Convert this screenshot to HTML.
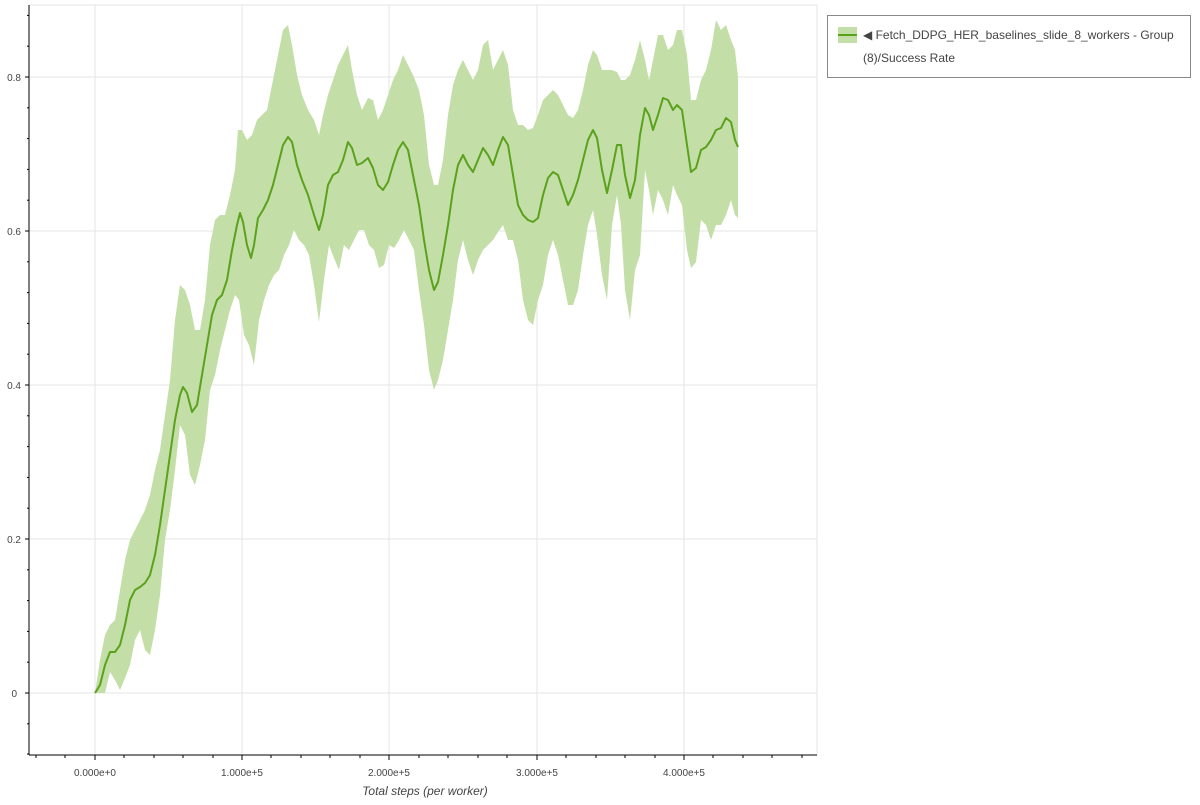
<!DOCTYPE html>
<html><head><style>
body{margin:0;background:#fff;width:1200px;height:800px;overflow:hidden;font-family:"Liberation Sans",sans-serif}
</style></head><body>
<svg width="1200" height="800" xmlns="http://www.w3.org/2000/svg" font-family="Liberation Sans, sans-serif">
<rect x="29" y="5" width="788" height="750" fill="#fff" stroke="#e6e6e6"/>
<g stroke="#e4e4e4" stroke-width="1">
<line x1="95" y1="5" x2="95" y2="755"/><line x1="242" y1="5" x2="242" y2="755"/><line x1="389" y1="5" x2="389" y2="755"/><line x1="537" y1="5" x2="537" y2="755"/><line x1="684" y1="5" x2="684" y2="755"/>
<line x1="29" y1="693" x2="817" y2="693"/><line x1="29" y1="539" x2="817" y2="539"/><line x1="29" y1="385" x2="817" y2="385"/><line x1="29" y1="231" x2="817" y2="231"/><line x1="29" y1="77" x2="817" y2="77"/>
</g>
<polygon fill="#c4dea8" points="95,693 100,660 105,635 110,625 115,620 120,590 125,560 130,540 135,530 140,520 145,510 150,495 155,470 160,450 165,415 170,380 175,320 180,285 185,290 190,305 195,330 200,330 205,300 210,245 215,220 220,215 225,215 230,195 235,170 238,130 242,130 247,140 252,135 257,120 262,115 267,110 272,85 277,60 283,30 288,25 292,45 297,75 302,95 308,110 314,120 319,135 323,115 328,95 333,80 338,65 343,55 348,45 352,70 357,95 362,110 368,98 373,100 378,120 383,110 388,95 393,80 398,70 403,55 408,65 413,75 419,90 424,115 429,165 434,185 438,185 443,160 448,115 453,85 458,70 463,60 468,70 473,80 478,70 483,45 488,40 493,70 498,60 503,50 508,65 513,110 518,125 523,125 528,130 533,128 538,115 543,100 548,95 553,90 558,95 563,105 568,115 573,118 578,110 583,90 588,65 593,50 597,55 602,70 607,70 612,70 617,72 621,80 625,80 630,75 635,60 640,40 645,60 649,80 653,60 658,35 663,35 668,50 673,45 677,30 682,30 687,55 691,100 696,100 701,80 706,70 711,50 716,20 721,30 726,25 731,40 735,50 738,77 738,218 735,215 731,200 726,215 721,225 716,225 711,240 706,225 701,220 696,262 691,268 687,250 682,205 677,195 673,185 668,215 663,200 658,190 653,215 649,190 645,170 640,255 635,270 630,320 625,290 621,225 617,195 612,225 607,300 602,275 597,235 593,210 588,225 583,255 578,290 573,305 568,305 563,280 558,255 553,240 548,255 543,285 538,300 533,325 528,320 523,300 518,260 513,240 508,240 503,225 498,232 493,240 488,245 483,250 478,260 473,275 468,260 463,240 458,260 453,300 448,330 443,360 438,380 434,390 429,370 424,325 419,290 414,250 409,240 404,230 399,240 394,248 389,245 384,265 379,268 374,250 369,245 364,230 359,230 354,240 349,250 344,245 339,270 334,258 329,245 324,280 319,322 314,285 309,255 304,245 299,240 294,230 289,245 284,255 279,270 274,275 269,285 264,300 259,320 254,365 249,345 244,335 239,300 235,295 230,310 225,330 220,350 215,375 210,390 205,440 200,465 195,485 190,475 185,435 180,425 175,470 170,510 165,540 160,595 155,630 150,655 145,650 140,630 135,640 130,665 125,678 120,690 115,680 110,672 105,693 100,693"/>
<polyline fill="none" stroke="#5ba21c" stroke-width="2" stroke-linejoin="round" points="95,693 100,685 105,665 110,652 115,652 120,645 125,625 130,600 135,590 140,587 145,583 150,575 155,555 160,525 165,490 170,455 175,420 180,395 183,387 187,393 192,412 197,405 202,375 207,345 212,315 217,300 222,295 227,280 232,250 237,225 240,213 243,222 247,245 251,258 254,245 258,218 263,210 268,200 273,185 278,165 283,145 288,137 292,142 297,165 302,180 308,195 314,215 319,230 323,215 328,185 333,175 338,172 343,160 348,142 352,148 357,165 362,163 368,158 373,168 378,185 383,190 388,182 393,165 398,150 403,142 408,150 413,175 419,205 424,240 429,270 434,290 438,282 443,255 448,225 453,190 458,165 463,155 468,165 473,172 478,160 483,148 488,155 493,165 498,150 503,137 508,145 513,175 518,205 523,215 528,220 533,222 538,218 543,195 548,178 553,172 558,175 563,190 568,205 573,195 578,180 583,160 588,140 593,130 597,138 602,170 607,193 612,170 617,145 621,145 625,175 630,198 635,180 640,135 645,108 649,115 653,130 658,115 663,98 668,100 673,110 677,105 682,110 687,145 691,172 696,168 701,150 706,147 711,140 716,130 721,128 726,118 731,122 735,140 738,147"/>
<g stroke="#000" stroke-width="1">
<line x1="29" y1="5" x2="29" y2="755"/><line x1="29" y1="755" x2="817" y2="755"/>
<line x1="25" y1="693" x2="29" y2="693"/><line x1="25" y1="539" x2="29" y2="539"/><line x1="25" y1="385" x2="29" y2="385"/><line x1="25" y1="231" x2="29" y2="231"/><line x1="25" y1="77" x2="29" y2="77"/>
<line x1="27" y1="723.8" x2="29" y2="723.8"/><line x1="27" y1="754" x2="29" y2="754"/><line x1="27" y1="662.2" x2="29" y2="662.2"/><line x1="27" y1="631.4" x2="29" y2="631.4"/><line x1="27" y1="600.6" x2="29" y2="600.6"/><line x1="27" y1="569.8" x2="29" y2="569.8"/><line x1="27" y1="508.2" x2="29" y2="508.2"/><line x1="27" y1="477.4" x2="29" y2="477.4"/><line x1="27" y1="446.6" x2="29" y2="446.6"/><line x1="27" y1="415.8" x2="29" y2="415.8"/><line x1="27" y1="354.2" x2="29" y2="354.2"/><line x1="27" y1="323.4" x2="29" y2="323.4"/><line x1="27" y1="292.6" x2="29" y2="292.6"/><line x1="27" y1="261.8" x2="29" y2="261.8"/><line x1="27" y1="200.2" x2="29" y2="200.2"/><line x1="27" y1="169.4" x2="29" y2="169.4"/><line x1="27" y1="138.6" x2="29" y2="138.6"/><line x1="27" y1="107.8" x2="29" y2="107.8"/><line x1="27" y1="46.2" x2="29" y2="46.2"/><line x1="27" y1="15.4" x2="29" y2="15.4"/>
<line x1="95" y1="755" x2="95" y2="760"/><line x1="242" y1="755" x2="242" y2="760"/><line x1="389" y1="755" x2="389" y2="760"/><line x1="537" y1="755" x2="537" y2="760"/><line x1="684" y1="755" x2="684" y2="760"/>
<line x1="36" y1="755" x2="36" y2="758"/><line x1="65" y1="755" x2="65" y2="758"/><line x1="124" y1="755" x2="124" y2="758"/><line x1="154" y1="755" x2="154" y2="758"/><line x1="183" y1="755" x2="183" y2="758"/><line x1="213" y1="755" x2="213" y2="758"/><line x1="271" y1="755" x2="271" y2="758"/><line x1="301" y1="755" x2="301" y2="758"/><line x1="330" y1="755" x2="330" y2="758"/><line x1="360" y1="755" x2="360" y2="758"/><line x1="419" y1="755" x2="419" y2="758"/><line x1="448" y1="755" x2="448" y2="758"/><line x1="478" y1="755" x2="478" y2="758"/><line x1="507" y1="755" x2="507" y2="758"/><line x1="566" y1="755" x2="566" y2="758"/><line x1="596" y1="755" x2="596" y2="758"/><line x1="625" y1="755" x2="625" y2="758"/><line x1="655" y1="755" x2="655" y2="758"/><line x1="713" y1="755" x2="713" y2="758"/><line x1="743" y1="755" x2="743" y2="758"/><line x1="772" y1="755" x2="772" y2="758"/><line x1="802" y1="755" x2="802" y2="758"/>
</g>
<g font-size="10" fill="#444" text-anchor="end">
<text x="17" y="697">0</text><text x="21" y="543">0.2</text><text x="21" y="389">0.4</text><text x="21" y="235">0.6</text><text x="21" y="81">0.8</text>
</g>
<g font-size="10" fill="#444" text-anchor="middle">
<text x="95" y="776">0.000e+0</text><text x="242" y="776">1.000e+5</text><text x="389" y="776">2.000e+5</text><text x="537" y="776">3.000e+5</text><text x="684" y="776">4.000e+5</text>
</g>
<text x="425" y="795" font-size="12" font-style="italic" fill="#444" text-anchor="middle">Total steps (per worker)</text>
<rect x="827.5" y="15.5" width="363" height="62" fill="#fff" stroke="#888"/>
<rect x="838" y="27" width="19" height="16" fill="#c4dea8"/>
<line x1="838" y1="35" x2="857" y2="35" stroke="#5ba21c" stroke-width="2"/>
<text x="863" y="39" font-size="12" fill="#444">◀ Fetch_DDPG_HER_baselines_slide_8_workers - Group</text>
<text x="863" y="62" font-size="12" fill="#444">(8)/Success Rate</text>
</svg>
</body></html>
